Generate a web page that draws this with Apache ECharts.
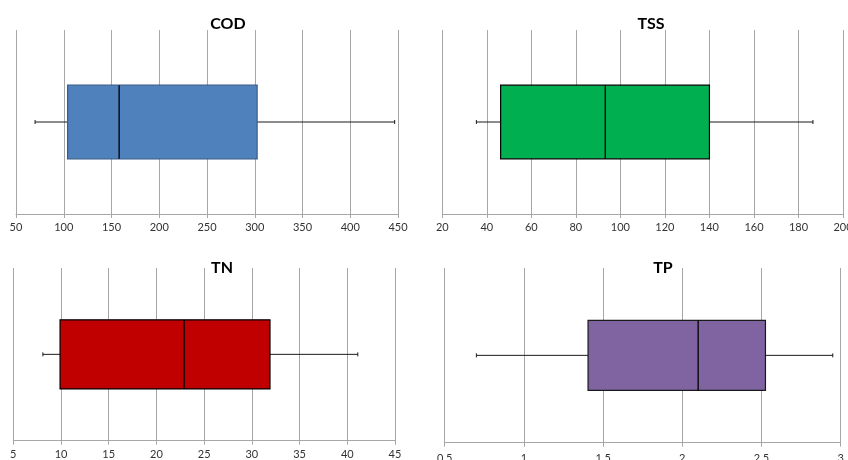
<!DOCTYPE html>
<html>
<head>
<meta charset="utf-8">
<script src="https://cdn.jsdelivr.net/npm/echarts@6/dist/echarts.min.js"></script>
<style>html,body{margin:0;padding:0;background:#fff}#c{width:848px;height:460px}</style>
</head>
<body>
<div id="c"></div>
<script>
// Panel names
const panelNames = ["COD", "TSS", "TN", "TP"];
// Box statistics: [low whisker, Q1, median, Q3, high whisker]
const codStats = [70, 104, 158, 302.5, 446.5];
const tssStats = [35.3, 46.2, 93.2, 140, 186.5];
const tnStats = [8.1, 9.9, 22.9, 31.9, 41.1];
const tpStats = [0.70, 1.405, 2.10, 2.525, 2.95];
// Axis ranges: [min, max, interval]
const codAxis = [50, 450, 50];
const tssAxis = [20, 200, 20];
const tnAxis = [5, 45, 5];
const tpAxis = [0.5, 3, 0.5];

const statsList = [codStats, tssStats, tnStats, tpStats];
const axisList = [codAxis, tssAxis, tnAxis, tpAxis];
const fills = ["#4F81BD", "#00B050", "#C00000", "#8064A2"];
const borders = ["#385D8A", "#000000", "#000000", "#1a1a1a"];

const grids = [
  {left: 16, right: 450, top: 30, bottom: 246, outerBoundsMode: "none", containLabel: false},
  {left: 442.3, right: 5, top: 30, bottom: 246, outerBoundsMode: "none", containLabel: false},
  {left: 13.3, right: 453, top: 268, bottom: 19.3, outerBoundsMode: "none", containLabel: false},
  {left: 444.7, right: 7.3, top: 268, bottom: 17.3, outerBoundsMode: "none", containLabel: false}
];
const titlePos = [[223, 11], [646, 11], [217, 255], [658, 255]];

function makeRender(idx) {
  return function (params, api) {
    const v = [api.value(1), api.value(2), api.value(3), api.value(4), api.value(5)];
    const cat = api.value(0);
    const pts = v.map(x => api.coord([x, cat]));
    const band = api.size([0, 1])[1];
    const h = band * 0.4;
    const yc = pts[0][1];
    const y0 = yc - h / 2;
    const lineStyle = {stroke: "#1a1a1a", lineWidth: 1};
    return {
      type: "group",
      children: [
        {type: "line", shape: {x1: pts[0][0], y1: yc, x2: pts[1][0], y2: yc}, style: lineStyle},
        {type: "line", shape: {x1: pts[3][0], y1: yc, x2: pts[4][0], y2: yc}, style: lineStyle},
        {type: "line", shape: {x1: pts[0][0], y1: yc - 2, x2: pts[0][0], y2: yc + 2}, style: lineStyle},
        {type: "line", shape: {x1: pts[4][0], y1: yc - 2, x2: pts[4][0], y2: yc + 2}, style: lineStyle},
        {type: "rect", shape: {x: pts[1][0], y: y0, width: pts[3][0] - pts[1][0], height: h},
          style: {fill: fills[idx], stroke: borders[idx], lineWidth: 1.2}},
        {type: "line", shape: {x1: pts[2][0], y1: y0, x2: pts[2][0], y2: y0 + h},
          style: {stroke: "#000", lineWidth: 1.3}}
      ]
    };
  };
}

const option = {
  animation: false,
  backgroundColor: "#fff",
  title: panelNames.map((n, i) => ({
    text: n, left: titlePos[i][0], top: titlePos[i][1], textAlign: "center",
    textStyle: {fontFamily: "Lato", fontWeight: "bold", fontSize: 16, color: "#000"}
  })),
  grid: grids,
  xAxis: axisList.map((a, i) => ({
    type: "value", gridIndex: i, min: a[0], max: a[1], interval: a[2],
    axisLine: {show: true, lineStyle: {color: "#a6a6a6", width: 1}},
    axisTick: {show: true, length: 4, lineStyle: {color: "#a6a6a6"}},
    splitLine: {show: true, showMinLine: true, showMaxLine: true, lineStyle: {color: "#a6a6a6", width: 1}},
    axisLabel: {fontFamily: "Lato", fontSize: 11, color: "#333", margin: i === 3 ? 10 : 8,
      showMinLabel: true, showMaxLabel: true, hideOverlap: false,
      alignMinLabel: "center", alignMaxLabel: "center"}
  })),
  yAxis: axisList.map((a, i) => ({
    type: "category", gridIndex: i, data: [panelNames[i]],
    axisLine: {show: false}, axisTick: {show: false}, axisLabel: {show: false}, splitLine: {show: false}
  })),
  series: statsList.map((s, i) => ({
    type: "custom", xAxisIndex: i, yAxisIndex: i,
    renderItem: makeRender(i),
    encode: {x: [1, 2, 3, 4, 5], y: 0},
    data: [[0].concat(s)]
  }))
};

const chart = echarts.init(document.getElementById("c"), null, {renderer: "canvas"});
chart.setOption(option);
</script>
</body>
</html>
